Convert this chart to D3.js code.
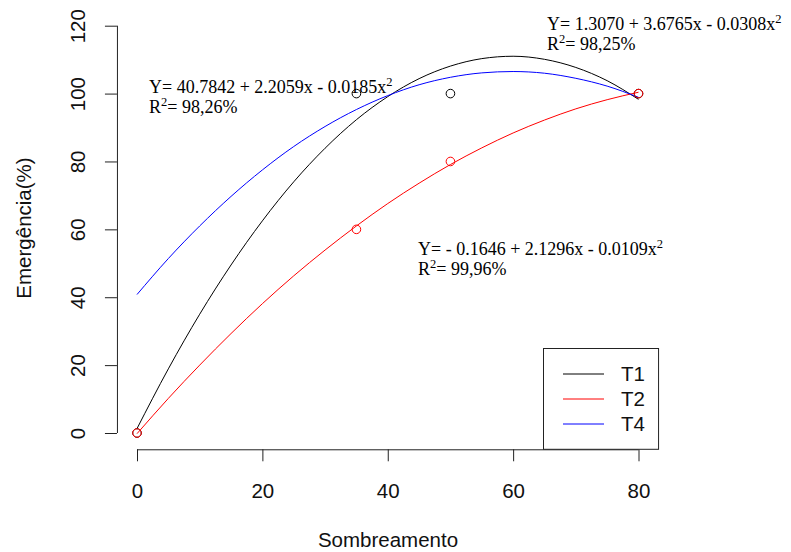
<!DOCTYPE html>
<html>
<head>
<meta charset="utf-8">
<script src="https://cdn.jsdelivr.net/npm/d3@7"></script>
<style>
  body { margin: 0; background: #fff; }
  svg { display: block; }
</style>
</head>
<body>
<div id="chart"></div>
<script>
// observed points
const obsX = [0, 35, 50, 80];
const t1Obs = [0, 100, 100, 100];
const t2Obs = [0, 60, 80, 100];

// fitted curves, every 5 units
const curveX = [0, 5, 10, 15, 20, 25, 30, 35, 40, 45, 50, 55, 60, 65, 70, 75, 80];
const t1Fit = [1.3, 18.9, 35.0, 49.5, 62.5, 74.0, 83.9, 92.3, 99.1, 104.4, 108.1, 110.3, 111.0, 110.1, 107.7, 103.8, 98.3];
const t2Fit = [-0.2, 10.2, 20.0, 29.3, 38.1, 46.3, 53.9, 61.0, 67.6, 73.6, 79.1, 84.0, 88.4, 92.2, 95.5, 98.2, 100.4];
const t4Fit = [40.8, 51.4, 61.0, 69.7, 77.5, 84.4, 90.3, 95.3, 99.4, 102.6, 104.8, 106.1, 106.5, 106.0, 104.5, 102.2, 98.9];

const xTicks = [0, 20, 40, 60, 80];
const yTicks = [0, 20, 40, 60, 80, 100, 120];

const seriesNames = ['T1', 'T2', 'T4'];
const seriesColors = ['#000000', '#ff0000', '#0000ff'];

const equations = [
    { eq: 'Y= 40.7842 + 2.2059x - 0.0185x', r2: '98,26%' },
    { eq: 'Y= 1.3070 + 3.6765x - 0.0308x', r2: '98,25%' },
    { eq: 'Y= - 0.1646 + 2.1296x - 0.0109x', r2: '99,96%' },
];
const eqPos = [[149, 93], [547, 30], [418, 255]];

const width = 791;
const height = 552;
const sans = 'Arial, "Liberation Sans", sans-serif';
const serif = '"Times New Roman", "Liberation Serif", serif';

const svg = d3.select('#chart')
    .append('svg')
    .attr('width', width)
    .attr('height', height);

const x = d3.scaleLinear().domain([0, 80]).range([137, 638.5]);
const y = d3.scaleLinear().domain([0, 120]).range([433, 25.7]);

const plotLeft = x(-3.2);
const plotRight = x(83.2);
const plotBottom = y(-4.8);

// x axis
const xAxis = svg.append('g')
    .attr('transform', `translate(0,${plotBottom})`)
    .call(d3.axisBottom(x).tickValues(xTicks).tickSize(12).tickPadding(22).tickSizeOuter(0));
xAxis.select('.domain').attr('stroke', '#222').attr('d', `M${x(0)},0.5H${x(80)}`);
xAxis.selectAll('.tick line').attr('stroke', '#222');
xAxis.selectAll('.tick text')
    .attr('font-family', sans)
    .attr('font-size', 20.5)
    .attr('fill', '#111');

// y axis
const yAxis = svg.append('g')
    .attr('transform', `translate(${plotLeft},0)`)
    .call(d3.axisLeft(y).tickValues(yTicks).tickSize(12).tickSizeOuter(0));
yAxis.select('.domain').attr('stroke', '#222').attr('d', `M0.5,${y(0)}V${y(120)}`);
yAxis.selectAll('.tick line').attr('stroke', '#222');
yAxis.selectAll('.tick text')
    .attr('font-family', sans)
    .attr('font-size', 20.5)
    .attr('fill', '#111')
    .attr('x', null)
    .attr('dy', null)
    .attr('text-anchor', 'middle')
    .attr('transform', 'translate(-32,0) rotate(-90)');

// axis titles
svg.append('text')
    .attr('x', 388)
    .attr('y', 547)
    .attr('text-anchor', 'middle')
    .attr('font-family', sans)
    .attr('font-size', 20.5)
    .attr('fill', '#111')
    .text('Sombreamento');

svg.append('text')
    .attr('transform', 'translate(31,228) rotate(-90)')
    .attr('text-anchor', 'middle')
    .attr('font-family', sans)
    .attr('font-size', 20.5)
    .attr('fill', '#111')
    .text('Emergência(%)');

// fitted curves
const fits = [t1Fit, t2Fit, t4Fit];
const line = d3.line()
    .x((d) => x(d[0]))
    .y((d) => y(d[1]))
    .curve(d3.curveMonotoneX);

fits.forEach((vals, i) => {
    svg.append('path')
        .datum(curveX.map((cx, j) => [cx, vals[j]]))
        .attr('d', line)
        .attr('fill', 'none')
        .attr('stroke', seriesColors[i])
        .attr('stroke-width', 1);
});

// observed points
[t1Obs, t2Obs].forEach((vals, i) => {
    svg.append('g')
        .selectAll('circle')
        .data(obsX.map((ox, j) => [ox, vals[j]]))
        .enter()
        .append('circle')
        .attr('cx', (d) => x(d[0]))
        .attr('cy', (d) => y(d[1]))
        .attr('r', 4.3)
        .attr('fill', 'none')
        .attr('stroke', seriesColors[i])
        .attr('stroke-width', 1);
});

// equations
equations.forEach((e, i) => {
    const [ex, ey] = eqPos[i];
    const t = svg.append('text')
        .attr('x', ex)
        .attr('y', ey)
        .attr('font-family', serif)
        .attr('font-size', 18)
        .attr('fill', '#000');
    t.append('tspan').text(e.eq);
    t.append('tspan').attr('font-size', 12.5).attr('dy', -7).text('2');

    const r = svg.append('text')
        .attr('x', ex)
        .attr('y', ey + 20)
        .attr('font-family', serif)
        .attr('font-size', 18)
        .attr('fill', '#000');
    r.append('tspan').text('R');
    r.append('tspan').attr('font-size', 12.5).attr('dy', -7).text('2');
    r.append('tspan').attr('dy', 7).text('= ' + e.r2);
});

// legend
const legend = svg.append('g');
legend.append('rect')
    .attr('x', 543.5)
    .attr('y', 348.5)
    .attr('width', plotRight - 543.5)
    .attr('height', plotBottom - 348.5)
    .attr('fill', '#fff')
    .attr('stroke', '#222')
    .attr('stroke-width', 1);

seriesNames.forEach((name, i) => {
    const ly = 374 + i * 25;
    legend.append('line')
        .attr('x1', 563)
        .attr('x2', 604)
        .attr('y1', ly)
        .attr('y2', ly)
        .attr('stroke', seriesColors[i])
        .attr('stroke-width', 1);
    legend.append('text')
        .attr('x', 621)
        .attr('y', ly)
        .attr('dy', '0.36em')
        .attr('font-family', sans)
        .attr('font-size', 20.5)
        .attr('fill', '#111')
        .text(name);
});
</script>
</body>
</html>
